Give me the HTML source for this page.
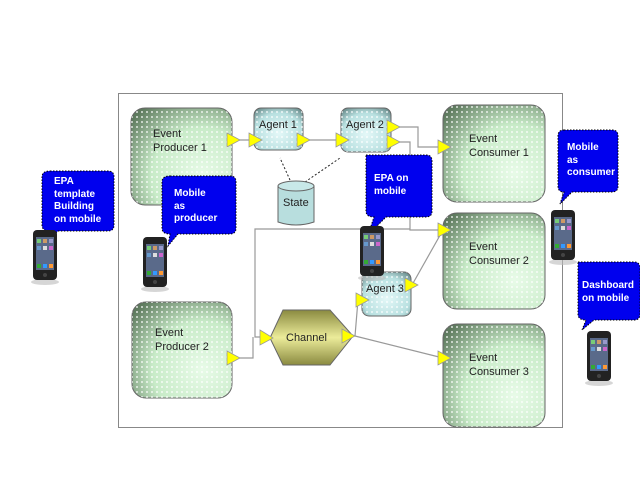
<!DOCTYPE html>
<html><head><meta charset="utf-8"><style>
html,body{margin:0;padding:0;background:#fff;}
svg{display:block;font-family:"Liberation Sans",sans-serif;}
.b{font-family:"Liberation Sans",sans-serif;font-weight:bold;fill:#fff;font-size:10px;}
</style></head><body>
<svg width="640" height="480" viewBox="0 0 640 480" xmlns="http://www.w3.org/2000/svg">
<defs>
<radialGradient id="g" cx="0.7" cy="0.7" r="0.9">
<stop offset="0" stop-color="#e8fbe8"/><stop offset="0.55" stop-color="#c8ebc8"/><stop offset="1" stop-color="#5e7a5e"/></radialGradient>
<radialGradient id="a" cx="0.5" cy="0.6" r="0.8">
<stop offset="0" stop-color="#e4f8f8"/><stop offset="0.6" stop-color="#b8e0e0"/><stop offset="1" stop-color="#4f6f6f"/></radialGradient>
<linearGradient id="h" x1="0" y1="0" x2="0" y2="1">
<stop offset="0" stop-color="#8a8a40"/><stop offset="0.5" stop-color="#ecec9a"/><stop offset="1" stop-color="#8a8a40"/></linearGradient>
<pattern id="d" width="5" height="5" patternUnits="userSpaceOnUse"><rect x="1" y="1" width="2" height="2" fill="#fff" opacity="0.6"/></pattern>
<g id="ph"><ellipse cx="12" cy="52" rx="14" ry="3" fill="#bbb" opacity="0.6"/><rect x="0" y="0" width="24" height="50" rx="4" fill="#222"/><rect x="3" y="7" width="18" height="33" fill="#5a6a8a"/><rect x="4" y="9" width="4" height="4" fill="#7c7"/><rect x="10" y="9" width="4" height="4" fill="#c96"/><rect x="16" y="9" width="4" height="4" fill="#99c"/><rect x="4" y="16" width="4" height="4" fill="#69c"/><rect x="10" y="16" width="4" height="4" fill="#ddd"/><rect x="16" y="16" width="4" height="4" fill="#c6c"/><rect x="4" y="34" width="4" height="4" fill="#3a3"/><rect x="10" y="34" width="4" height="4" fill="#39f"/><rect x="16" y="34" width="4" height="4" fill="#f93"/><circle cx="12" cy="45" r="2" fill="#444"/></g>
</defs>
<rect x="118.5" y="93.5" width="444" height="334" fill="#fff" stroke="#888"/>
<g fill="none" stroke="#999" stroke-width="1.2">
<polyline points="232,140 254,140"/><polyline points="303,140 342,140"/>
<polyline points="391,127 418,127 418,147 443,147"/>
<polyline points="391,142 410,142 410,230 443,230"/>
<polyline points="410,229 255,229 255,337 262,337"/>
<polyline points="232,358 253,358 253,337"/>
<polyline points="355,336 358,300 362,300"/>
<polyline points="355,336 443,358"/>
<polyline points="412,285 443,230"/>
</g>
<g stroke="#222" stroke-dasharray="2,2" fill="none"><line x1="290" y1="180" x2="280" y2="158"/><line x1="305" y1="182" x2="340" y2="158"/></g>
<g stroke="#666">
<rect x="131" y="108" width="101" height="97" rx="14" fill="url(#g)"/>
<rect x="132" y="302" width="100" height="96" rx="14" fill="url(#g)"/>
<rect x="443" y="105" width="102" height="97" rx="14" fill="url(#g)"/>
<rect x="443" y="213" width="102" height="96" rx="14" fill="url(#g)"/>
<rect x="443" y="324" width="102" height="103" rx="14" fill="url(#g)"/>
<rect x="254" y="108" width="49" height="42" rx="7" fill="url(#a)"/>
<rect x="341" y="108" width="50" height="44" rx="7" fill="url(#a)"/>
<rect x="362" y="272" width="49" height="44" rx="7" fill="url(#a)"/>
<polygon points="270,338 283,310 330,310 353,336 330,365 283,365" fill="url(#h)"/>
<path d="M278,186 v36 q18,6 36,0 v-36" fill="#b8dede"/><ellipse cx="296" cy="186" rx="18" ry="5" fill="#c8e8e8"/>
</g>
<g fill="url(#d)">
<rect x="131" y="108" width="101" height="97" rx="14"/><rect x="132" y="302" width="100" height="96" rx="14"/>
<rect x="443" y="105" width="102" height="97" rx="14"/><rect x="443" y="213" width="102" height="96" rx="14"/><rect x="443" y="324" width="102" height="103" rx="14"/>
<rect x="254" y="108" width="49" height="42" rx="7"/><rect x="341" y="108" width="50" height="44" rx="7"/><rect x="362" y="272" width="49" height="44" rx="7"/>
</g>
<g fill="#222" font-size="11">
<text x="153" y="137">Event</text><text x="153" y="151">Producer 1</text>
<text x="155" y="336">Event</text><text x="155" y="350">Producer 2</text>
<text x="469" y="142">Event</text><text x="469" y="156">Consumer 1</text>
<text x="469" y="250">Event</text><text x="469" y="264">Consumer 2</text>
<text x="469" y="361">Event</text><text x="469" y="375">Consumer 3</text>
<text x="259" y="128">Agent 1</text><text x="346" y="128">Agent 2</text><text x="366" y="292">Agent 3</text>
<text x="286" y="341">Channel</text><text x="283" y="206">State</text>
</g>
<g fill="#ffff00" stroke="#999" stroke-width="0.8">
<polygon points="227,133 240,140 227,147"/><polygon points="249,133 262,140 249,147"/>
<polygon points="297,133 310,140 297,147"/><polygon points="336,133 349,140 336,147"/>
<polygon points="387,120 400,127 387,134"/><polygon points="387,135 400,142 387,149"/>
<polygon points="438,140 451,147 438,154"/><polygon points="438,223 451,230 438,237"/>
<polygon points="438,351 451,358 438,365"/>
<polygon points="227,351 240,358 227,365"/><polygon points="260,330 273,338 260,345"/>
<polygon points="342,329 355,336 342,343"/><polygon points="356,293 369,300 356,307"/>
<polygon points="405,278 418,285 405,292"/>
</g>
<g fill="#0000ee" stroke="#000" stroke-dasharray="1.5,1.5">
<path d="M50,171 h58 q6,0 6,6 v48 q0,6 -6,6 h-50 l-10,10 2,-10 q-8,0 -8,-6 v-48 q0,-6 8,-6z"/>
<path d="M170,176 h60 q6,0 6,6 v46 q0,6 -6,6 h-52 l-10,12 2,-12 q-8,0 -8,-6 v-46 q0,-6 8,-6z"/>
<path d="M366,155 h60 q6,0 6,6 v50 q0,6 -6,6 h-40 l-18,18 6,-18 q-8,0 -8,-6 v-50 q0,-6 0,-6z"/>
<path d="M564,130 h48 q6,0 6,6 v50 q0,6 -6,6 h-40 l-12,12 4,-12 q-6,0 -6,-6 v-50 q0,-6 6,-6z"/>
<path d="M578,262 h56 q6,0 6,6 v46 q0,6 -6,6 h-40 l-12,10 4,-10 q-8,0 -8,-6 v-46 q0,-6 0,-6z"/>
</g>
<g class="b">
<text x="54" y="184">EPA</text><text x="54" y="197">template</text><text x="54" y="209">Building</text><text x="54" y="222">on mobile</text>
<text x="174" y="196">Mobile</text><text x="174" y="209">as</text><text x="174" y="221">producer</text>
<text x="374" y="181">EPA on</text><text x="374" y="194">mobile</text>
<text x="567" y="150">Mobile</text><text x="567" y="163">as</text><text x="567" y="175" textLength="48" lengthAdjust="spacingAndGlyphs">consumer</text>
<text x="582" y="288" textLength="52" lengthAdjust="spacingAndGlyphs">Dashboard</text><text x="582" y="301">on mobile</text>
</g>
<use href="#ph" x="33" y="230"/><use href="#ph" x="143" y="237"/><use href="#ph" x="360" y="226"/><use href="#ph" x="551" y="210"/><use href="#ph" x="587" y="331"/>
</svg>
</body></html>
